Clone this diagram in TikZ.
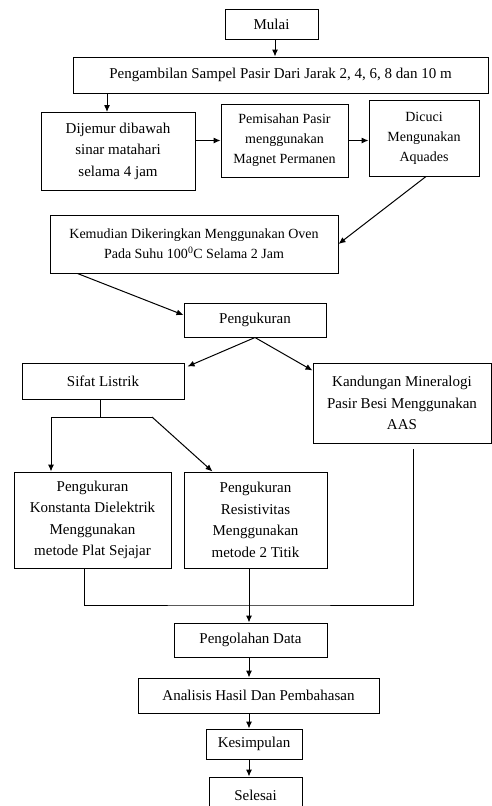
\documentclass[tikz,border=0pt]{standalone}
\usepackage{fontspec}
\setmainfont{Liberation Serif}
\usetikzlibrary{arrows,arrows.meta,calc}
\tikzset{
  kotak/.style={draw, line width=1pt, align=center, inner sep=0pt,
    font=\fontsize{15}{21.5}\selectfont},
  kecil/.style={font=\fontsize{14}{20}\selectfont},
}
\begin{document}
\begin{tikzpicture}[x=1pt, y=-1pt, >={Latex[length=7pt,width=6pt]}, line width=1pt]
     \useasboundingbox (0,0) rectangle (492,806);
     \node [kotak, minimum width=93, minimum height=30] (mulai) at (271.5, 24) {Mulai};
     \node [kotak, minimum width=415, minimum height=36] (ambil) at (280.5, 75) {Pengambilan Sampel Pasir Dari Jarak 2, 4, 6, 8 dan 10 m};
     \node [kotak, minimum width=154, minimum height=78] (jemur) at (118, 151) {Dijemur dibawah\\sinar matahari\\selama 4 jam};
     \node [kotak, kecil, minimum width=127, minimum height=73] (pisah) at (284.5, 140.5) {Pemisahan Pasir\\menggunakan\\Magnet Permanen};
     \node [kotak, kecil, minimum width=110, minimum height=76] (cuci) at (424, 138) {Dicuci\\Mengunakan\\Aquades};
     \node [kotak, kecil, minimum width=288, minimum height=58] (kering) at (194, 244) {Kemudian Dikeringkan Menggunakan Oven\\Pada Suhu 100\textsuperscript{0}C Selama 2 Jam};
     \node [kotak, minimum width=142, minimum height=34] (ukur) at (255, 320) {Pengukuran};
     \node [kotak, minimum width=162, minimum height=36] (listrik) at (103, 381) {Sifat Listrik};
     \node [kotak, minimum width=178, minimum height=80] (mineral) at (402, 403) {Kandungan Mineralogi\\Pasir Besi Menggunakan\\AAS};
     \node [kotak, minimum width=157, minimum height=96] (konstanta) at (92.5, 520) {Pengukuran\\Konstanta Dielektrik\\Menggunakan\\metode Plat Sejajar};
     \node [kotak, minimum width=143, minimum height=96] (resist) at (255.5, 520) {Pengukuran\\Resistivitas\\Menggunakan\\metode 2 Titik};
     \node [kotak, minimum width=153, minimum height=34] (olah) at (250.5, 640) {Pengolahan Data};
     \node [kotak, minimum width=241, minimum height=35] (analisis) at (258.5, 695.5) {Analisis Hasil Dan Pembahasan};
     \node [kotak, minimum width=96, minimum height=30] (simpul) at (254, 744) {Kesimpulan};
     \node [kotak, minimum width=93, minimum height=36] (selesai) at (255.5, 795) {Selesai};
     \coordinate (turun) at (275, 39);
     \coordinate (masuk) at (107, 112);
     \coordinate (kiri) at (51, 417);
     \coordinate (kanan) at (152, 417);
     \coordinate (gabung) at (249, 605);
     \draw [->] (turun) -- (turun |- ambil.north);
     \draw [->] (masuk |- ambil.south) -- (masuk);
     \draw [->] (jemur.east |- pisah.west) -- (pisah.west);
     \draw [->] (pisah.east) -- (pisah.east -| cuci.west);
     \draw [->] ($(cuci.south)+(2,0)$) -- (kering.east);
     \draw [->] ($(kering.south west)+(28,0)$) -- ($(ukur.west)+(0,-5)$);
     \draw [->] (ukur.south) -- ($(listrik.north east)+(3,4)$);
     \draw [->] (ukur.south) -- ($(mineral.north west)+(0,8)$);
     \draw (listrik.south -| 100,0) -- (100, 417);
     \draw (kiri) -- (kanan);
     \draw [->] (kiri) -- (kiri |- konstanta.north);
     \draw [->] (kanan) -- ($(resist.north)+(-43,0)$);
     \draw ($(konstanta.south)+(-8,0)$) |- (gabung) -| ($(mineral.south)+(11,5)$);
     \draw [->] (resist.south -| gabung) -- (gabung |- olah.north);
     \draw [->] (olah.south -| gabung) -- (gabung |- analisis.north);
     \draw [->] (analisis.south -| gabung) -- (gabung |- simpul.north);
     \draw [->] (simpul.south -| gabung) -- (gabung |- selesai.north);
\end{tikzpicture}
\end{document}
